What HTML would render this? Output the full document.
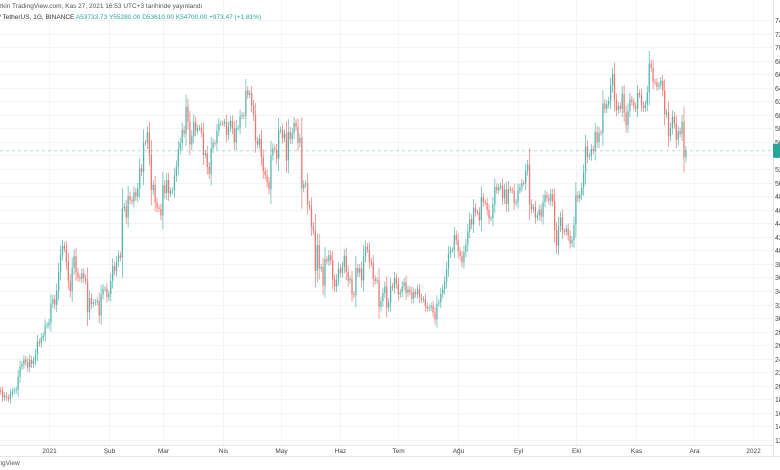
<!DOCTYPE html>
<html><head><meta charset="utf-8"><style>
html,body{margin:0;padding:0;background:#fff;}
body{width:780px;height:470px;overflow:hidden;position:relative;font-family:"Liberation Sans",sans-serif;}
svg{position:absolute;left:0;top:0;}
</style></head><body>
<svg id="chart" width="780" height="470" viewBox="0 0 780 470" xmlns="http://www.w3.org/2000/svg">
<g id="grid"></g>
<g id="candles"></g>
<line x1="0" x2="773" y1="0" y2="0" id="lastline" stroke="#26a69a" stroke-width="1" stroke-dasharray="3,3" opacity="0.35"/>
<rect x="773" y="0" width="7" height="470" fill="#fff"/>
<line x1="773.5" x2="773.5" y1="0" y2="456" stroke="#e6e6ea"/>
<g id="yaxis"></g>
<line x1="0" x2="773" y1="445.5" y2="445.5" stroke="#e6e6ea"/>
<line x1="0" x2="780" y1="456.5" y2="456.5" stroke="#e6e6ea"/>
<g id="xaxis"></g>
<rect id="lastbox" x="773" y="146" width="7" height="14" fill="#26a69a"/>
<text x="-3" y="8" font-size="6.5" fill="#555">tzkin TradingView.com, Kas 27, 2021 16:53 UTC+3 tarihinde yayınlandı</text>
<text x="-1" y="19" font-size="6.5" fill="#333">/ TetherUS, 1G, BINANCE <tspan fill="#26a69a">A53733.73 Y55280.00 D53610.00 K54700.00 +973.47 (+1.81%)</tspan></text>
<text x="-3" y="465" font-size="6.5" fill="#555">ingView</text>
</svg>
<script>
// daily closes (thousand USDT), starting 2020-12-07
const dec20 = [19.17,18.32,18.55,18.26,18.04,18.81,19.15,19.27,19.44,21.33,22.8,23.14,23.87,23.48,22.75,23.83,23.24,23.73,24.71,26.49,26.28,27.08,27.39,28.88,28.95];
const jan = [29.37,32.13,32.78,31.97,33.99,36.82,39.37,40.67,40.24,38.24,35.54,33.98,37.39,39.14,36.74,36.03,35.79,36.63,35.89,35.47,30.85,32.95,32.08,32.27,32.37,32.57,30.43,33.45,34.29,34.32,33.11];
const feb = [33.53,35.51,37.67,36.95,38.29,39.26,38.9,46.2,46.48,44.85,48.0,47.41,47.19,48.58,47.93,49.13,52.12,51.55,55.91,55.89,57.41,54.09,48.89,49.68,47.08,46.28,46.11,45.14];
const mar = [49.59,48.44,50.35,48.37,48.75,48.88,50.97,52.38,54.88,55.85,57.77,57.22,61.19,59.0,55.63,56.9,58.91,57.65,58.03,58.1,57.35,54.08,54.34,52.3,51.3,55.03,55.84,55.78,57.63,58.73,58.74];
const apr = [58.72,58.96,57.06,58.2,59.13,57.99,55.95,58.08,58.09,59.77,59.96,59.83,63.58,62.96,63.2,61.39,60.0,56.15,55.63,56.47,53.79,51.7,51.09,50.05,49.0,54.02,55.03,54.84,53.56,57.69];
const may = [57.8,56.57,57.21,53.24,57.47,56.43,57.36,58.8,58.23,55.86,56.61,49.15,49.72,49.88,46.76,46.43,43.54,42.9,37.0,40.78,37.3,37.54,34.77,38.7,38.4,39.29,38.5,35.66,34.62,35.7,37.3];
const jun = [36.68,37.57,39.19,36.85,35.52,35.8,33.55,33.4,37.39,36.69,37.34,35.55,39.1,40.52,40.14,38.35,38.09,35.82,35.48,35.6,31.68,32.5,33.68,34.66,31.58,32.28,34.7,34.49,35.91,35.04];
const jul = [33.5,33.8,34.7,35.29,33.69,34.22,33.86,32.88,33.81,33.52,34.26,33.09,32.73,32.82,31.78,31.42,31.53,31.8,30.84,29.79,32.14,32.31,33.58,34.29,35.4,37.27,39.46,40.0,40.01,42.24,41.46];
const aug = [39.85,39.15,38.21,39.72,40.87,42.81,44.61,43.82,46.29,45.6,45.58,44.43,47.83,47.1,47.02,45.94,44.69,44.71,46.76,49.33,48.87,49.29,49.53,47.71,48.98,46.85,49.07,48.9,48.81,46.99,47.16];
const sep = [48.85,49.28,49.94,49.92,51.76,52.66,46.86,46.07,46.37,44.85,45.16,46.03,44.96,47.1,48.14,47.76,47.3,48.31,47.25,43.01,40.69,43.57,44.88,42.84,42.72,43.21,42.17,41.03,41.52,43.79];
const oct = [48.14,47.66,48.2,49.22,51.47,55.32,53.8,53.97,54.95,54.66,57.47,56.0,57.37,57.35,61.67,60.88,61.53,62.04,64.28,66.0,62.21,60.69,61.29,60.86,63.08,60.33,58.46,60.59,62.27,61.89,61.3];
const nov = [60.91,63.22,62.93,61.44,61.0,61.53,63.3,67.55,66.94,64.88,64.78,64.16,64.4,65.0,63.6,60.06,60.36,56.89,58.05,59.7,58.7,56.3,57.57,57.17,58.96,53.73,54.7];
const firstOpen = 19.35;
const priceTicks = [74,72,70,68,66,64,62,60,58,56,54,52,50,48,46,44,42,40,38,36,34,32,30,28,26,24,22,20,18,16,14,12];
const monthLabels = ["2021","Şub","Mar","Nis","May","Haz","Tem","Ağu","Eyl","Eki","Kas","Ara","2022"];
const monthDayIndex = [25,56,84,115,145,176,206,237,268,298,329,359,390];

const closes = [].concat(dec20,jan,feb,mar,apr,may,jun,jul,aug,sep,oct,nov);
const NS = "http://www.w3.org/2000/svg";
function yScale(v){ return 20 + (74 - v) * 420 / 62; }
function xScale(i){ return 0.75 + i * 1.93; }
function mk(tag, attrs){ const e=document.createElementNS(NS,tag); for(const k in attrs) e.setAttribute(k,attrs[k]); return e; }

const grid=document.getElementById('grid'), yaxis=document.getElementById('yaxis'), xaxis=document.getElementById('xaxis');
priceTicks.forEach(t=>{
  const y=Math.round(yScale(t))+0.5;
  const l=mk('line',{x1:0,x2:773,y1:y,y2:y,stroke:'#f4f4f6'});
  
  
  grid.appendChild(l);
  const tx=mk('text',{x:775,y:y+2.5,'font-size':7,fill:'#444'});
  
  
  tx.textContent=t+'000.00';
  yaxis.appendChild(tx);
});
monthLabels.forEach((m,k)=>{
  const x=Math.round(xScale(monthDayIndex[k]))+0.5;
  const l=mk('line',{x1:x,x2:x,y1:0,y2:445,stroke:'#f4f4f6'});
  
  
  grid.appendChild(l);
  const tx=mk('text',{x:x,y:453,'font-size':6.5,fill:'#444','text-anchor':'middle'});
  
  
  tx.textContent=m;
  xaxis.appendChild(tx);
});

const cg=document.getElementById('candles');
closes.forEach((c,i)=>{
  const o = i===0 ? firstOpen : closes[i-1];
  const up = c>=o;
  const col = up ? '#26a69a' : '#ef5350';
  const span = Math.abs(c-o);
  const hi = Math.max(o,c) + 0.4 + span*0.35;
  const lo = Math.min(o,c) - 0.4 - span*0.35;
  const x = xScale(i);
  const g=mk('g',{opacity:0.8});
  
  
  g.appendChild(mk('line',{x1:x,x2:x,y1:yScale(hi),y2:yScale(lo),stroke:col,'stroke-width':0.7}));
  const yt=yScale(Math.max(o,c)), yb=yScale(Math.min(o,c));
  g.appendChild(mk('rect',{x:x-0.65,y:yt,width:1.3,height:Math.max(0.8,yb-yt),fill:col}));
  cg.appendChild(g);
});
const last=closes[closes.length-1], ly=yScale(last);
const ll=document.getElementById('lastline'); ll.setAttribute('y1',ly); ll.setAttribute('y2',ly);
document.getElementById('lastbox').setAttribute('y',ly-7);
</script>
</body></html>
